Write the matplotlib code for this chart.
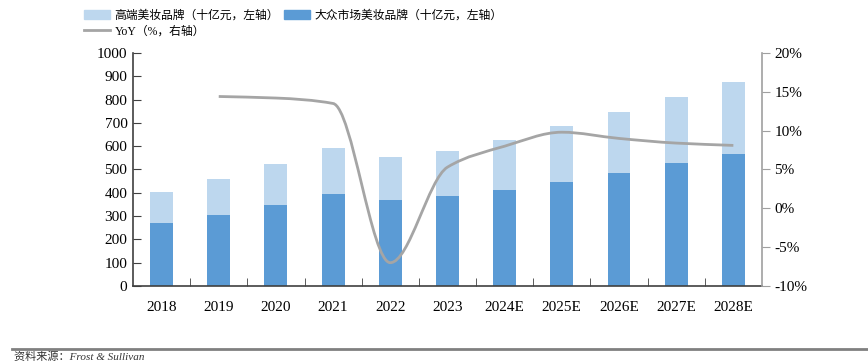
import numpy as np
import matplotlib
matplotlib.use("Agg")
import matplotlib.pyplot as plt
from matplotlib.path import Path
from matplotlib.patches import PathPatch, Patch
from matplotlib.lines import Line2D

plt.rcParams['font.family'] = ['Liberation Serif', 'Noto Sans CJK SC']

years = ['2018', '2019', '2020', '2021', '2022', '2023',
         '2024E', '2025E', '2026E', '2027E', '2028E']
mass = [270, 306, 348, 395, 370, 385, 412, 448, 486, 527, 566]
total = [404, 461, 524, 594, 552, 579, 625, 687, 748, 810, 874]
premium = [t - m for t, m in zip(total, mass)]
yoy = [14.4, 14.2, 13.5, -7.0, 5.3, 8.0, 9.8, 9.0, 8.4, 8.1]

c_prem = '#BDD7EE'
c_mass = '#5B9BD5'
c_line = '#A5A5A5'

fig = plt.figure(figsize=(8.68, 3.61), dpi=100)
ax = fig.add_axes([0.1532, 0.2078, 0.7246, 0.6454])
x = np.arange(len(years))
ax.bar(x, mass, width=0.4, color=c_mass, zorder=2)
ax.bar(x, premium, bottom=mass, width=0.4, color=c_prem, zorder=2)
ax.set_xlim(-0.5, len(years) - 0.5)
ax.set_ylim(0, 1000)
ax.set_yticks(range(0, 1001, 100))
ax.set_xticks(x)
ax.set_xticklabels(years)
ax.set_xticks(np.arange(0.5, len(years) - 1, 1), minor=True)
ax.tick_params(axis='x', which='major', length=0, pad=11, labelsize=11)
ax.tick_params(axis='x', which='minor', direction='in', length=6, color='#404040')
ax.tick_params(axis='y', direction='in', length=6, color='#404040', labelsize=11, pad=4)
for s in ['top', 'right']:
    ax.spines[s].set_visible(False)
ax.spines['left'].set_color('#404040')
ax.spines['bottom'].set_color('#404040')
ax.spines['left'].set_linewidth(1.2)
ax.spines['bottom'].set_linewidth(1.2)

ax2 = ax.twinx()
ax2.set_ylim(-10, 20)
ax2.set_yticks(range(-10, 21, 5))
ax2.set_yticklabels([f'{v}%' for v in range(-10, 21, 5)])
ax2.tick_params(axis='y', direction='out', length=6, color='#A0A0A0', labelsize=11, pad=3)
for s in ['top', 'left', 'bottom']:
    ax2.spines[s].set_visible(False)
ax2.spines['right'].set_color('#A0A0A0')
ax2.spines['right'].set_linewidth(1.2)

# smoothed line: cubic Bezier segments with monotone (PCHIP-like) tangents
px = x[1:].astype(float)
py = np.array(yoy, dtype=float)
n = len(px)
d = np.diff(py)
m = np.zeros(n)
m[0], m[-1] = d[0], d[-1]
for i in range(1, n - 1):
    if d[i - 1] * d[i] > 0:
        m[i] = 2 * d[i - 1] * d[i] / (d[i - 1] + d[i])
verts = [(px[0], py[0])]
codes = [Path.MOVETO]
for i in range(n - 1):
    verts += [(px[i] + 1 / 3, py[i] + m[i] / 3),
              (px[i + 1] - 1 / 3, py[i + 1] - m[i + 1] / 3),
              (px[i + 1], py[i + 1])]
    codes += [Path.CURVE4] * 3
ax2.add_patch(PathPatch(Path(verts, codes), fill=False, edgecolor=c_line,
                        linewidth=2.0, zorder=3))

handles = [Patch(color=c_prem), Line2D([], [], color=c_line, linewidth=2.0),
           Patch(color=c_mass)]
labels = ['高端美妆品牌（十亿元，左轴）', 'YoY（%，右轴）', '大众市场美妆品牌（十亿元，左轴）']
fig.legend(handles, labels, ncol=2, loc='upper left', bbox_to_anchor=(0.087, 0.995),
           frameon=False, fontsize=8.5, handlelength=2.2, handleheight=0.8,
           handletextpad=0.4, columnspacing=0.4, labelspacing=0.3,
           borderaxespad=0.3)

fig.add_artist(Line2D([0.014, 1.0], [0.033, 0.033], color='#808080', linewidth=2,
                      transform=fig.transFigure))
fig.text(0.016, 0.026, '资料来源：Frost & Sullivan', fontsize=8, style='italic',
         va='top', ha='left', color='#333333')

fig.savefig('out.png', dpi=100)
